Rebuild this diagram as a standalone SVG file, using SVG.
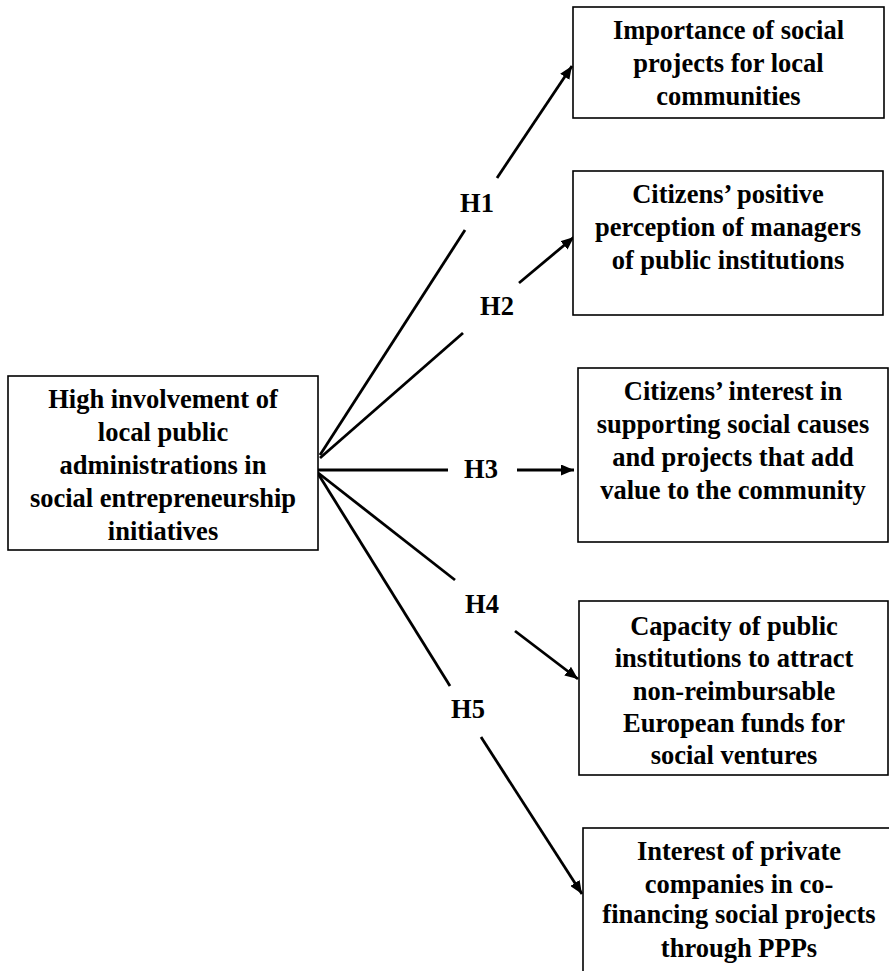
<svg xmlns="http://www.w3.org/2000/svg" width="889" height="971" viewBox="0 0 889 971">
<defs>
<style>
.box{fill:#fff;stroke:#000;stroke-width:1.6}
.t{font-family:"Liberation Serif","Times New Roman",serif;font-weight:bold;font-size:26.5px;fill:#000;text-anchor:middle}
.c{stroke:#000;stroke-width:2.8;fill:none}
.a{marker-end:url(#arr)}
</style>
<marker id="arr" markerUnits="userSpaceOnUse" markerWidth="13" markerHeight="11" refX="13" refY="5.5" orient="auto">
<path d="M0,0 L13,5.5 L0,11 z" fill="#000"/>
</marker>
</defs>
<rect width="889" height="971" fill="#fff"/>
<g id="connectors">
<line class="c" x1="320" y1="455" x2="465" y2="230"/>
<line class="c a" x1="497" y1="178" x2="572" y2="66"/>
<line class="c" x1="320" y1="458" x2="463" y2="333"/>
<line class="c a" x1="519" y1="283" x2="574" y2="237"/>
<line class="c" x1="314" y1="470" x2="448" y2="470"/>
<line class="c a" x1="517" y1="470" x2="574" y2="470"/>
<line class="c" x1="317" y1="472" x2="455" y2="580"/>
<line class="c a" x1="515" y1="631" x2="578" y2="679"/>
<line class="c" x1="317" y1="472" x2="450" y2="686"/>
<line class="c a" x1="481" y1="737" x2="582" y2="894"/>
<text class="t" x="477" y="212">H1</text>
<text class="t" x="497" y="315">H2</text>
<text class="t" x="481" y="478">H3</text>
<text class="t" x="482" y="613">H4</text>
<text class="t" x="468" y="718">H5</text>
</g>
<g id="n0">
<rect class="box" x="8" y="376" width="310" height="174"/>
<text class="t" x="163" y="408">High involvement of</text>
<text class="t" x="163" y="441">local public</text>
<text class="t" x="163" y="474">administrations in</text>
<text class="t" x="163" y="507">social entrepreneurship</text>
<text class="t" x="163" y="540">initiatives</text>
</g>
<g id="n1">
<rect class="box" x="573" y="7" width="311" height="111"/>
<text class="t" x="728.5" y="39">Importance of social</text>
<text class="t" x="728.5" y="72">projects for local</text>
<text class="t" x="728.5" y="105">communities</text>
</g>
<g id="n2">
<rect class="box" x="573" y="171" width="310" height="144"/>
<text class="t" x="728" y="203">Citizens’ positive</text>
<text class="t" x="728" y="236">perception of managers</text>
<text class="t" x="728" y="269">of public institutions</text>
</g>
<g id="n3">
<rect class="box" x="578" y="368" width="310" height="174"/>
<text class="t" x="733" y="400">Citizens’ interest in</text>
<text class="t" x="733" y="433">supporting social causes</text>
<text class="t" x="733" y="466">and projects that add</text>
<text class="t" x="733" y="499">value to the community</text>
</g>
<g id="n4">
<rect class="box" x="579" y="601" width="309" height="174"/>
<text class="t" x="734" y="635">Capacity of public</text>
<text class="t" x="734" y="667">institutions to attract</text>
<text class="t" x="734" y="700">non-reimbursable</text>
<text class="t" x="734" y="732">European funds for</text>
<text class="t" x="734" y="764">social ventures</text>
</g>
<g id="n5">
<rect class="box" x="583" y="828" width="312" height="160"/>
<text class="t" x="739" y="860">Interest of private</text>
<text class="t" x="739" y="893">companies in co-</text>
<text class="t" x="739" y="923">financing social projects</text>
<text class="t" x="739" y="957">through PPPs</text>
</g>
</svg>
